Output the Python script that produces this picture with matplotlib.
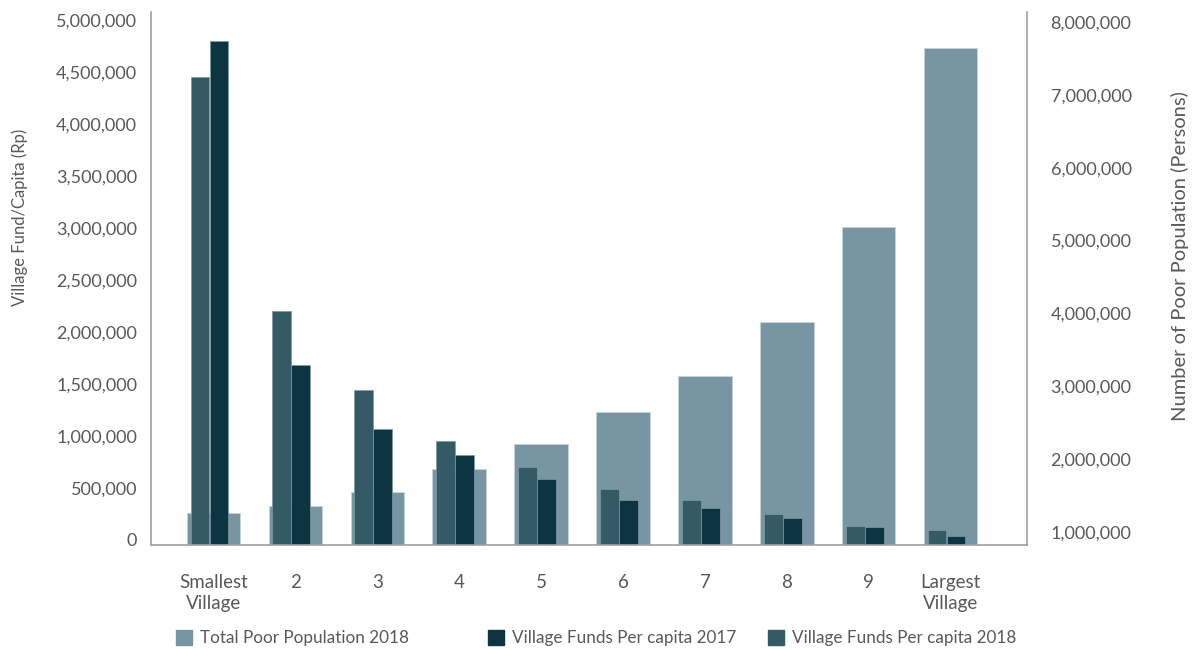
import matplotlib
matplotlib.use("Agg")
import matplotlib.pyplot as plt
import matplotlib.patches as mpatches
import matplotlib.transforms as mtransforms
import numpy as np

plt.rcParams['font.family'] = ['Lato', 'DejaVu Sans']

categories = ['Smallest\nVillage', '2', '3', '4', '5', '6', '7', '8', '9', 'Largest\nVillage']
poor_pop_2018 = [1333000, 1430000, 1618000, 1934000, 2277000,
                 2716000, 3214000, 3951000, 5251000, 7716000]
funds_pc_2017 = [4850000, 1728000, 1115000, 865000, 635000,
                 433000, 353000, 260000, 176000, 87000]
funds_pc_2018 = [4500000, 2250000, 1490000, 1000000, 747000,
                 538000, 430000, 295000, 186000, 147000]
left_ticks = np.arange(0, 5000001, 500000)
right_ticks = np.arange(1000000, 8000001, 1000000)

c_pop = '#7895a3'
c_2017 = '#0c3441'
c_2018 = '#345b65'
c_text = '#595959'
c_axis = '#a0a0a0'

fig = plt.figure(figsize=(11.98, 6.5), dpi=100)
ax = fig.add_axes([151 / 1198, 1 - 545 / 650, (1027 - 151) / 1198, (545 - 12) / 650])
axr = ax.twinx()

x = np.arange(len(categories))

# population bars go behind the per-capita bars
axr.bar(x, poor_pop_2018, width=0.65, color=c_pop, edgecolor='#c8d5db', linewidth=0.6)
ax.set_zorder(axr.get_zorder() + 1)
ax.patch.set_visible(False)

w = 0.225
ax.bar(x - 0.165, funds_pc_2018, width=w, color=c_2018, edgecolor='#7f9aa3', linewidth=0.5)
ax.bar(x + 0.067, funds_pc_2017, width=w, color=c_2017, edgecolor='#7f9aa3', linewidth=0.5)

ax.set_xlim(-0.76, 9.93)
ax.set_ylim(0, 5125000)
axr.set_ylim(890000, 8206000)

ax.set_yticks(left_ticks)
ax.set_yticklabels([f"{v:,.0f}" for v in left_ticks])
axr.set_yticks(right_ticks)
axr.set_yticklabels([f"{v:,.0f}" for v in right_ticks])
ax.set_xticks(x)
ax.set_xticklabels(categories)

ax.tick_params(axis='y', length=0, pad=10, labelsize=13, labelcolor=c_text)
axr.tick_params(axis='y', length=0, pad=17, labelsize=13, labelcolor=c_text)
ax.tick_params(axis='x', length=0, pad=21, labelsize=13.5, labelcolor=c_text)
for lbl in ax.get_xticklabels():
    lbl.set_linespacing(1.25)

# value labels sit a few pixels above their gridline positions
lift = mtransforms.ScaledTranslation(0, 5 / 100, fig.dpi_scale_trans)
for lbl in ax.get_yticklabels() + axr.get_yticklabels():
    lbl.set_transform(lbl.get_transform() + lift)

ax.spines['top'].set_visible(False)
ax.spines['right'].set_visible(False)
axr.spines['top'].set_visible(False)
axr.spines['left'].set_visible(False)
axr.spines['bottom'].set_visible(False)
for a, s in ((ax, 'left'), (ax, 'bottom'), (axr, 'right')):
    a.spines[s].set_color(c_axis)
    a.spines[s].set_linewidth(1.2)

ax.set_ylabel('Village Fund/Capita (Rp)', fontsize=12, color=c_text)
axr.set_ylabel('Number of Poor Population (Persons)', fontsize=14.5, color=c_text,
               rotation=90)
ax.yaxis.set_label_coords((20 - 151) / 876, (545 - 217) / 533)
axr.yaxis.set_label_coords((1180 - 151) / 876, (545 - 256) / 533)
ax.yaxis.label.set_verticalalignment('center')
axr.yaxis.label.set_verticalalignment('center')

legend_items = [
    (c_pop, 'Total Poor Population 2018', 176),
    (c_2017, 'Village Funds Per capita 2017', 488),
    (c_2018, 'Village Funds Per capita 2018', 768),
]
for color, label, xpix in legend_items:
    h = mpatches.Patch(color=color, label=label)
    fig.legend(handles=[h], loc='center left', bbox_to_anchor=(xpix / 1198, 1 - 638 / 650),
               frameon=False, fontsize=12.3, labelcolor=c_text, handlelength=0.95,
               handleheight=0.95, handletextpad=0.45, borderpad=0, borderaxespad=0)

fig.savefig('out.png', dpi=100)
